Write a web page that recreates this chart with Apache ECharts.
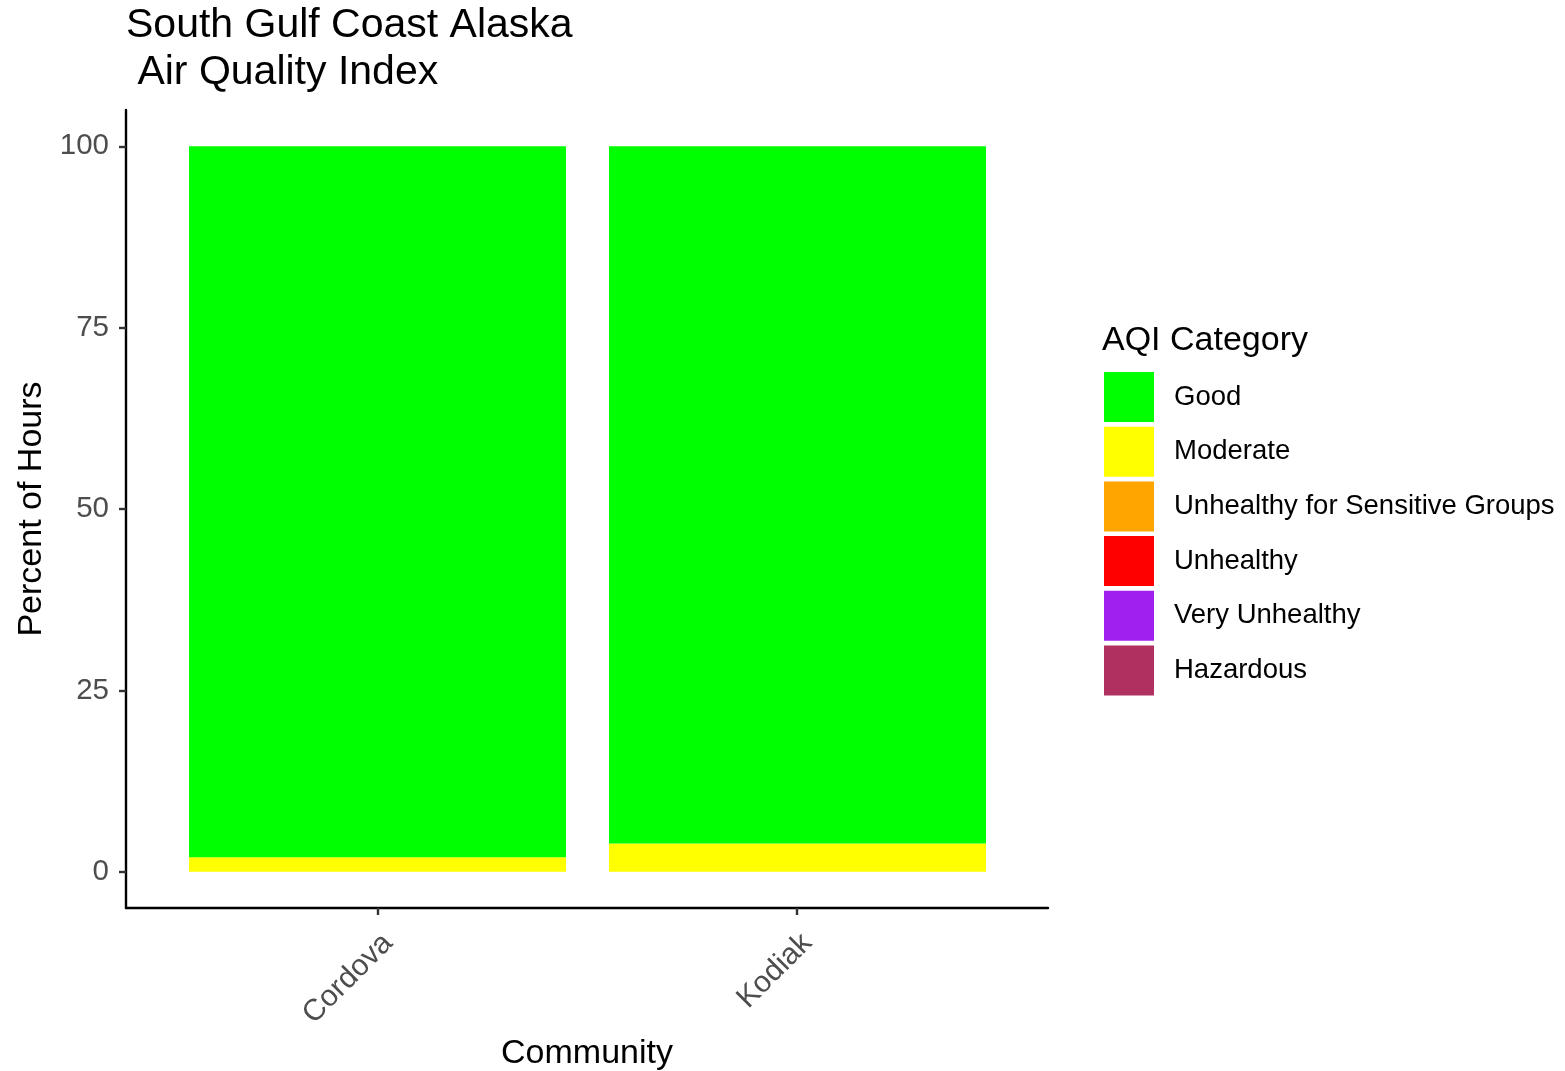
<!DOCTYPE html>
<html>
<head>
<meta charset="utf-8">
<script src="https://cdn.jsdelivr.net/npm/echarts@6/dist/echarts.min.js"></script>
<style>
html,body{margin:0;padding:0;background:#fff;}
#chart{width:1565px;height:1071px;}
</style>
</head>
<body>
<div id="chart"></div>
<script>
// Data
const communities = ['Cordova', 'Kodiak'];
const communityPositions = [1, 2];
const categories = ['Good', 'Moderate', 'Unhealthy for Sensitive Groups', 'Unhealthy', 'Very Unhealthy', 'Hazardous'];
const categoryColors = ['#00FF00', '#FFFF00', '#FFA500', '#FF0000', '#A020F0', '#B03060'];
const goodValues = [98.0, 96.1];
const moderateValues = [2.0, 3.9];
const usgValues = [0, 0];
const unhealthyValues = [0, 0];
const veryUnhealthyValues = [0, 0];
const hazardousValues = [0, 0];
const yTicks = [0, 25, 50, 75, 100];

const valuesByCategory = {
  'Good': goodValues,
  'Moderate': moderateValues,
  'Unhealthy for Sensitive Groups': usgValues,
  'Unhealthy': unhealthyValues,
  'Very Unhealthy': veryUnhealthyValues,
  'Hazardous': hazardousValues
};

const FONT = '"Liberation Sans", Arial, sans-serif';

// Stack bottom-up: last category at bottom, Good on top
const stackOrder = categories.slice().reverse();
const series = stackOrder.map(cat => ({
  name: cat,
  type: 'bar',
  stack: 'aqi',
  xAxisIndex: 1,
  yAxisIndex: 1,
  barWidth: 377,
  itemStyle: { color: categoryColors[categories.indexOf(cat)] },
  data: valuesByCategory[cat].slice(),
  emphasis: { disabled: true }
}));
series.push({ type: 'scatter', xAxisIndex: 0, yAxisIndex: 0, data: [], silent: true });

const chart = echarts.init(document.getElementById('chart'), null, { renderer: 'canvas' });
chart.setOption({
  animation: false,
  backgroundColor: '#ffffff',
  title: [
    {
      text: 'South Gulf Coast Alaska\n Air Quality Index',
      left: 126, top: 2, padding: 0,
      textStyle: { fontFamily: FONT, fontSize: 41, fontWeight: 'normal', color: '#000', lineHeight: 47 }
    },
    {
      text: 'AQI Category',
      left: 1102, top: 324, padding: 0,
      textStyle: { fontFamily: FONT, fontSize: 34, fontWeight: 'normal', color: '#000' }
    }
  ],
  legend: {
    orient: 'vertical',
    left: 1104, top: 372, padding: 0,
    itemWidth: 50, itemHeight: 50, itemGap: 4.7,
    icon: 'rect',
    selectedMode: false,
    data: categories,
    textStyle: { fontFamily: FONT, fontSize: 27.5, color: '#000', padding: [3, 0, 0, 15] }
  },
  grid: [
    { left: 126, right: 517, top: 110, bottom: 163, containLabel: false, outerBoundsMode: 'none' },
    { left: 167.5, right: 557.5, top: 110, bottom: 163, containLabel: false, outerBoundsMode: 'none' }
  ],
  xAxis: [
    {
      type: 'value',
      gridIndex: 0,
      min: 0.4, max: 2.6,
      name: 'Community',
      nameLocation: 'middle',
      nameGap: 128,
      nameTextStyle: { fontFamily: FONT, fontSize: 34, color: '#000' },
      splitLine: { show: false },
      axisLine: { show: true, onZero: false, lineStyle: { color: '#000', width: 2.4 } },
      axisTick: { show: true, length: 7, lineStyle: { color: '#333', width: 2.4 }, customValues: communityPositions },
      axisLabel: {
        customValues: communityPositions,
        rotate: 45, margin: 20,
        verticalAlign: 'top',
        fontFamily: FONT, fontSize: 30, color: '#4d4d4d',
        formatter: v => communities[communityPositions.indexOf(v)]
      }
    },
    {
      type: 'category',
      gridIndex: 1,
      data: communities,
      show: false
    }
  ],
  yAxis: [
    {
      type: 'value',
      gridIndex: 0,
      min: -5, max: 105,
      name: 'Percent of Hours',
      nameLocation: 'middle',
      nameGap: 75,
      nameTextStyle: { fontFamily: FONT, fontSize: 34, color: '#000' },
      splitLine: { show: false },
      axisLine: { show: true, onZero: false, lineStyle: { color: '#000', width: 2.4 } },
      axisTick: { show: true, length: 7, lineStyle: { color: '#333', width: 2.4 }, customValues: yTicks },
      axisLabel: {
        customValues: yTicks,
        margin: 17,
        fontFamily: FONT, fontSize: 29.5, color: '#4d4d4d'
      }
    },
    {
      type: 'value',
      gridIndex: 1,
      min: -5, max: 105,
      show: false
    }
  ],
  series: series
});
</script>
</body>
</html>
